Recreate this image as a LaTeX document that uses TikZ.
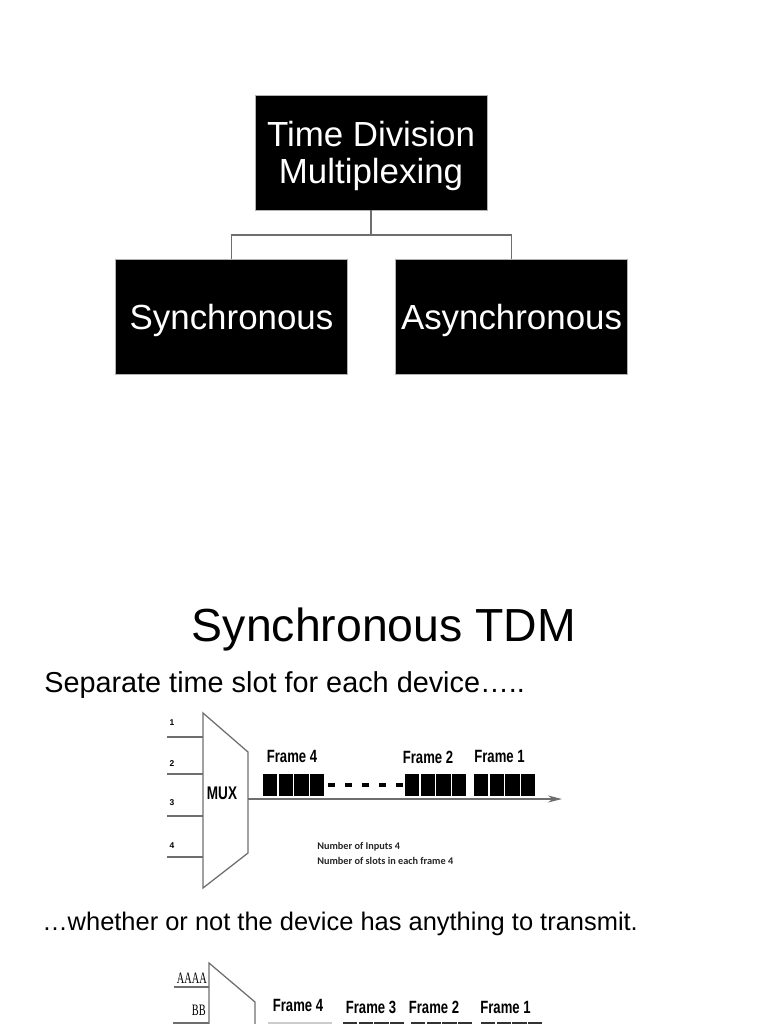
\documentclass[tikz,border=0pt]{standalone}
\usepackage{fontspec}
\setmainfont{Liberation Sans}
\newfontfamily\condsans[FakeStretch=0.74]{Liberation Sans}
\newfontfamily\condserif[FakeStretch=0.65]{Liberation Serif}
\newfontfamily\notefont{Carlito}
\usetikzlibrary{arrows.meta, positioning}
\definecolor{linegray}{RGB}{110,110,110}

\begin{document}
\begin{tikzpicture}[x=0.025cm, y=-0.025cm,
    b/.style={draw=gray!60, fill=black, text=white, inner sep=0, align=center, text depth=0pt,
      font=\fontsize{24.8}{26.2}\selectfont, minimum width=5.8cm, minimum height=2.875cm},
    ln/.style={draw=linegray, line width=0.9pt},
    fr/.style={inner sep=0, font=\condsans\bfseries\fontsize{12.6}{14}\selectfont},
    num/.style={inner sep=0, font=\bfseries\fontsize{6}{7}\selectfont},
    note/.style={inner sep=0, anchor=west, text=black!85, font=\notefont\bfseries\fontsize{7.3}{8}\selectfont},
    arr/.style={-{Stealth[length=10pt, width=5pt]}, linegray, line width=0.9pt}]
  \useasboundingbox (0,0) rectangle (768,1024);
  \clip (0,0) rectangle (768,1024);

  \node[b] (tdm) at (371,152.5) {Time Division\\Multiplexing};
  \node[b] (sync) at (231.5,316.5) {Synchronous};
  \node[b] (async) at (511.5,316.5) {Asynchronous};
  \coordinate (split) at (371,235);
  \draw[ln] (tdm.south) -- (split) -| (sync.north);
  \draw[ln] (split) -| (async.north);

  \node[font=\fontsize{33}{36}\selectfont] (title) at (384,629) {Synchronous TDM};
  \node[anchor=west, inner sep=0, font=\fontsize{20.5}{24}\selectfont] (txt1) at (44,685) {Separate time slot for each device…..};

  % multiplexer
  \coordinate (m1) at (203,713); \coordinate (m2) at (248,752);
  \coordinate (m3) at (248,853); \coordinate (m4) at (203,888);
  \draw[ln] (m1) -- (m2) -- (m3) -- (m4) -- cycle;
  \node[font=\condsans\bfseries\fontsize{13}{14}\selectfont] (mux) at (222,793) {MUX};
  \foreach \y/\ly/\t in {737/723/1, 774/764/2, 816/803/3, 857/846/4} {
    \draw[ln] (167,\y) -- (203,\y);
    \node[num] at (172,\ly) {\t};
  }
  \coordinate (out) at (248,799); \coordinate (tip) at (562,799);
  \draw[arr] (out) -- (tip);
  \foreach \x in {262,404,473} \foreach \i in {0,...,3}
    \fill[black] (\x+\i*15.75+0.8,774) rectangle ++(14.2,22);
  \draw[line width=3pt, dash pattern=on 5pt off 7.1pt] (328,785) -- (403,785);
  \node[fr] (f4) at (292,756) {Frame 4};
  \node[fr] (f2) at (428,757) {Frame 2};
  \node[fr] (f1) at (499.5,756) {Frame 1};
  \node[note] (n1) at (317,847) {Number of Inputs 4};
  \node[note] (n2) at (317,861) {Number of slots in each frame 4};

  \node[anchor=west, inner sep=0, font=\fontsize{18.1}{20}\selectfont] (txt2) at (42,924) {…whether or not the device has anything to transmit.};

  % second multiplexer
  \coordinate (k1) at (209,963); \coordinate (k2) at (255,1002);
  \draw[ln] (209,1045) -- (k1) -- (k2) -- (255,1045);
  \draw[ln] (174,987) -- (209,987);
  \draw[ln] (173,1023) -- (209,1023);
  \node[anchor=east, inner sep=0, font=\condserif\fontsize{11.3}{12}\selectfont] (sa) at (207,978) {AAAA};
  \node[anchor=east, inner sep=0, font=\condserif\fontsize{11.3}{12}\selectfont] (sb) at (206,1010) {BB};
  \node[fr] (g4) at (298,1005) {Frame 4};
  \node[fr] (g3) at (371,1007) {Frame 3};
  \node[fr] (g2) at (434,1007) {Frame 2};
  \node[fr] (g1) at (505.5,1007) {Frame 1};
  \foreach \x in {342,410,480} \foreach \i in {0,...,3}
    \fill[black!80] (\x+\i*15.75+0.8,1021.5) rectangle ++(14.2,22);
  \draw[gray!40, line width=0.8pt] (268,1023) -- (332,1023);
\end{tikzpicture}
\end{document}
